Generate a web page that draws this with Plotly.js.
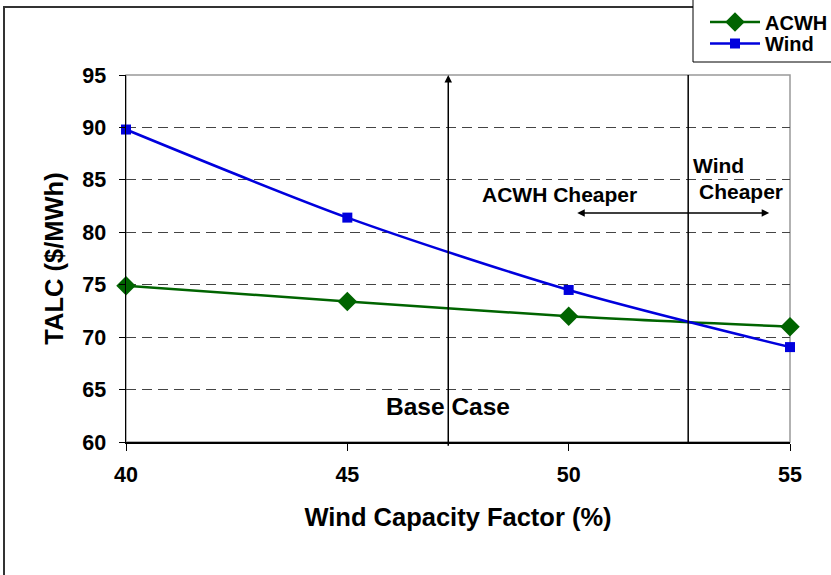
<!DOCTYPE html>
<html>
<head>
<meta charset="utf-8">
<script src="https://cdn.plot.ly/plotly-3.0.1.min.js"></script>
<style>html,body{margin:0;padding:0;background:#fff;}#chart{width:831px;height:575px;}</style>
</head>
<body>
<div id="chart"></div>
<script>
// Data
var capacityFactor = [40, 45, 50, 55];
var acwhTALC = [74.9, 73.4, 72.0, 71.0];
var windTALC = [89.8, 81.4, 74.5, 69.05];
var xTicks = [40, 45, 50, 55];
var yTicks = [60, 65, 70, 75, 80, 85, 90, 95];
var baseCaseCF = 47.28;
var breakEvenCF = 52.7;

var FONT = 'Arial, "Liberation Sans", sans-serif';
var L = 126, R = 790, T = 75, B = 442;
function px(p) { return (p - L) / (R - L); }
function py(p) { return (B - p) / (B - T); }

var traces = [
  {
    x: capacityFactor, y: acwhTALC, name: 'ACWH', type: 'scatter', mode: 'lines+markers',
    line: {color: '#006400', width: 2.5, shape: 'spline', smoothing: 0.8},
    marker: {symbol: 'diamond', size: 15, color: '#006400'},
    cliponaxis: false, legend: 'legend'
  },
  {
    x: capacityFactor, y: windTALC, name: 'Wind', type: 'scatter', mode: 'lines+markers',
    line: {color: '#0000DD', width: 2.5, shape: 'spline', smoothing: 0.8},
    marker: {symbol: 'square', size: 10, color: '#0000DD'},
    cliponaxis: false, legend: 'legend2'
  }
];

var legendFont = {family: FONT, size: 20, color: '#000', weight: 'bold'};

var layout = {
  width: 831, height: 575,
  margin: {l: L, r: 831 - R, t: T, b: 575 - B, autoexpand: false},
  paper_bgcolor: '#fff', plot_bgcolor: '#fff',
  font: {family: FONT, color: '#000', size: 20},
  showlegend: true,
  legend: {
    x: px(705), xanchor: 'left', y: py(22), yanchor: 'middle', itemwidth: 50,
    bgcolor: 'rgba(0,0,0,0)', borderwidth: 0, font: legendFont
  },
  legend2: {
    x: px(705), xanchor: 'left', y: py(43.5), yanchor: 'middle', itemwidth: 50,
    bgcolor: 'rgba(0,0,0,0)', borderwidth: 0, font: legendFont
  },
  xaxis: {
    range: [40, 55], tickvals: xTicks, ticktext: xTicks.map(String),
    showgrid: false, zeroline: false,
    showline: true, linecolor: '#000', linewidth: 1.5,
    ticks: 'outside', ticklen: 7, tickcolor: '#000', tickwidth: 1,
    ticklabelstandoff: 6,
    tickfont: {family: FONT, size: 21.5, color: '#000', weight: 'bold'},
    title: {text: 'Wind Capacity Factor (%)', standoff: 22,
            font: {family: FONT, size: 25.5, color: '#000', weight: 'bold'}}
  },
  yaxis: {
    range: [60, 95], tickvals: yTicks, ticktext: yTicks.map(String),
    showgrid: true, gridcolor: '#444', gridwidth: 1, griddash: '10px,6px',
    zeroline: false,
    showline: true, linecolor: '#000', linewidth: 1.5,
    ticks: 'outside', ticklen: 6, tickcolor: '#000', tickwidth: 1,
    ticklabelstandoff: 8,
    tickfont: {family: FONT, size: 21.5, color: '#000', weight: 'bold'},
    title: {text: 'TALC ($/MWh)', standoff: 11,
            font: {family: FONT, size: 25.5, color: '#000', weight: 'bold'}}
  },
  shapes: [
    // outer chart border
    {type: 'rect', xref: 'paper', yref: 'paper',
     x0: px(4), x1: px(845), y0: py(600), y1: py(7),
     line: {color: '#333', width: 2}, layer: 'below'},
    // plot frame (gray top/right)
    {type: 'rect', xref: 'paper', yref: 'paper', x0: 0, x1: 1, y0: 0, y1: 1,
     line: {color: '#999', width: 1.5}, layer: 'between'},
    // break-even vertical line
    {type: 'line', xref: 'x', yref: 'y', x0: breakEvenCF, x1: breakEvenCF, y0: 59.25, y1: 95,
     line: {color: '#000', width: 1.5}, layer: 'above'},
    // legend box
    {type: 'rect', xref: 'paper', yref: 'paper',
     x0: px(693), x1: px(850), y0: py(62), y1: py(-20),
     line: {color: '#000', width: 1}, fillcolor: '#fff', layer: 'above'}
  ],
  annotations: [
    // base case arrow
    {x: baseCaseCF, y: 95, xref: 'x', yref: 'y', ax: baseCaseCF, ay: 59.5, axref: 'x', ayref: 'y',
     text: '', showarrow: true, arrowhead: 2, arrowsize: 1, arrowwidth: 1.5, arrowcolor: '#000'},
    // double arrow
    {x: 54.53, y: 81.85, xref: 'x', yref: 'y', ax: 50.16, ay: 81.85, axref: 'x', ayref: 'y',
     text: '', showarrow: true, arrowhead: 2, startarrowhead: 2, arrowside: 'end+start',
     arrowsize: 1, startarrowsize: 1, arrowwidth: 1.5, arrowcolor: '#000'},
    {x: baseCaseCF, y: 63.34, xref: 'x', yref: 'y', text: 'Base Case', showarrow: false,
     font: {family: FONT, size: 24.5, color: '#000', weight: 'bold'}, xanchor: 'center', yanchor: 'middle'},
    {x: 49.8, y: 83.6, xref: 'x', yref: 'y', text: 'ACWH Cheaper', showarrow: false,
     font: {family: FONT, size: 21, color: '#000', weight: 'bold'}, xanchor: 'center', yanchor: 'middle'},
    {x: 52.76, y: 86.4, xref: 'x', yref: 'y', text: 'Wind', showarrow: false,
     font: {family: FONT, size: 21, color: '#000', weight: 'bold'}, xanchor: 'left', yanchor: 'middle'},
    {x: 52.9, y: 83.85, xref: 'x', yref: 'y', text: 'Cheaper', showarrow: false,
     font: {family: FONT, size: 21, color: '#000', weight: 'bold'}, xanchor: 'left', yanchor: 'middle'}
  ]
};

Plotly.newPlot('chart', traces, layout, {displayModeBar: false, staticPlot: true});
</script>
</body>
</html>
